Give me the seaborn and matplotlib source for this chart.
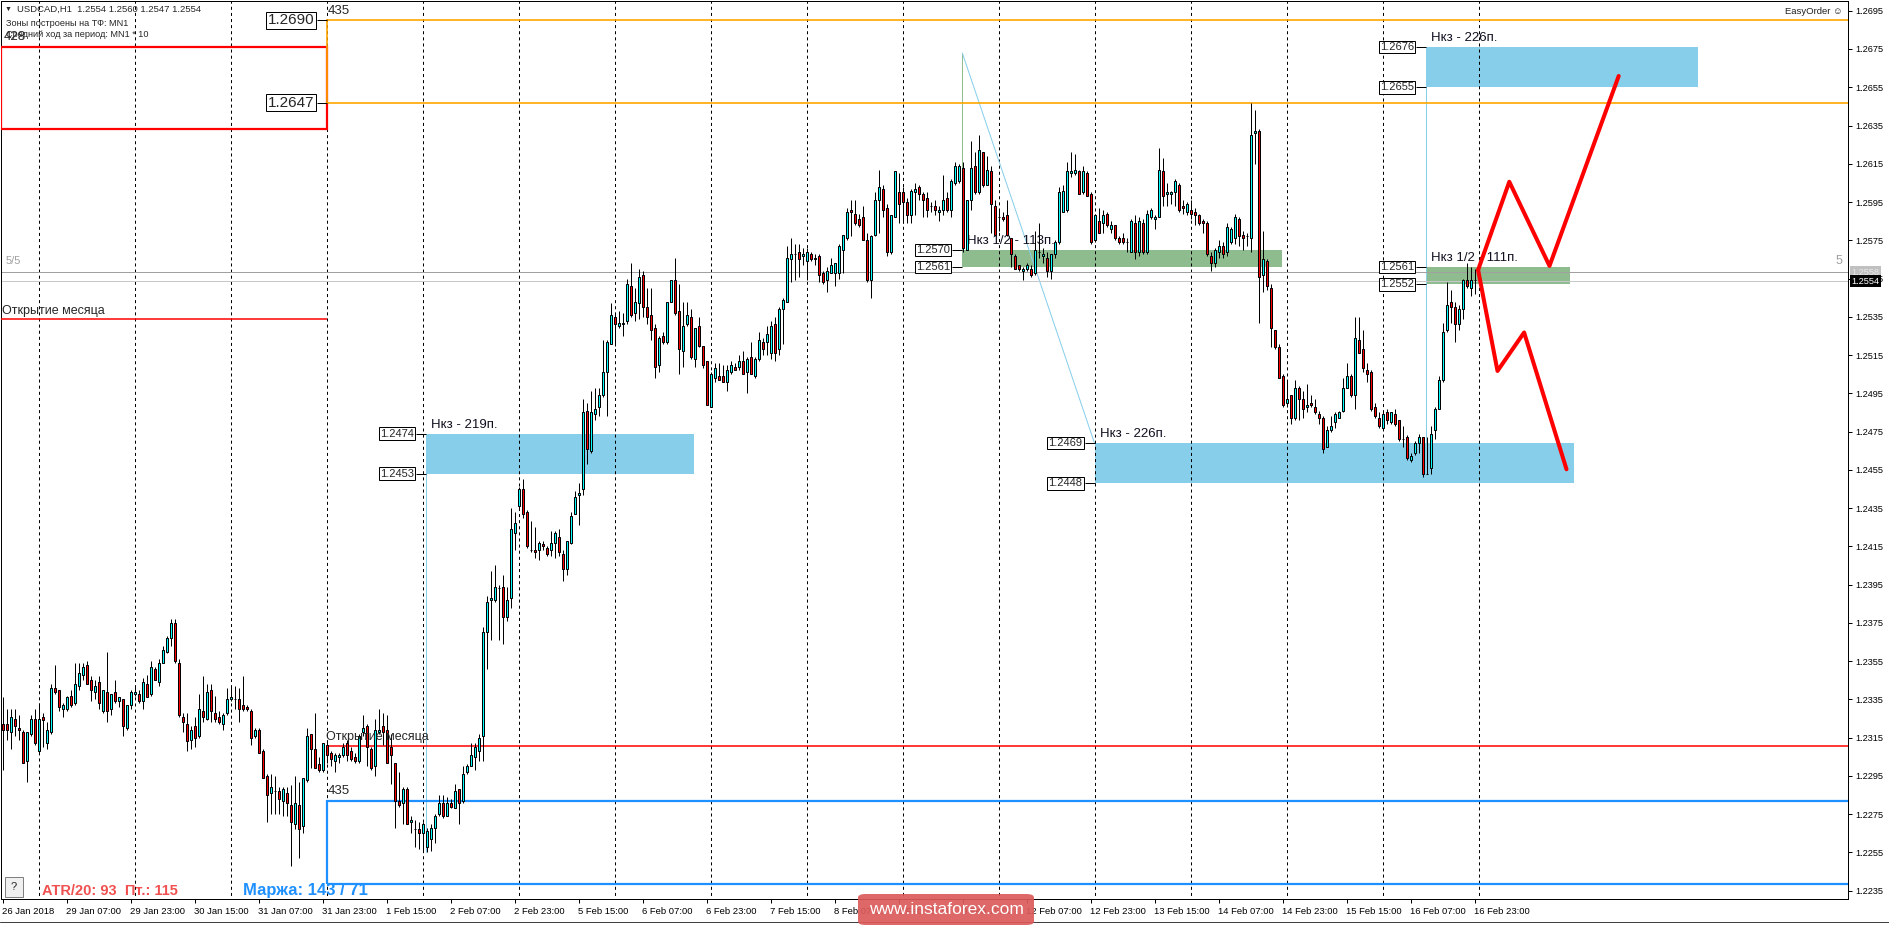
import numpy as np
import pandas as pd
import matplotlib
matplotlib.use('Agg')
import matplotlib.pyplot as plt
from matplotlib.patches import Rectangle, FancyBboxPatch
from matplotlib.lines import Line2D
import seaborn as sns

# USDCAD H1 candles, 26 Jan 15:00 .. 16 Feb 23:00, in pips above 1.2000
opens = [
    322, 322, 318, 325, 320, 318, 303, 317, 325, 308,
    326, 312, 318, 341, 340, 330, 330, 337, 333, 342,
    348, 353, 345, 339, 344, 329, 339, 330, 339, 334,
    335, 320, 332, 338, 338, 334, 343, 338, 351, 344,
    354, 360, 367, 375, 354, 326, 322, 314, 321, 316,
    329, 325, 340, 328, 326, 322, 328, 335, 335, 335,
    332, 331, 329, 316, 319, 308, 295, 286, 287, 287,
    282, 286, 280, 270, 280, 269, 293, 317, 309, 301,
    298, 311, 307, 303, 305, 306, 312, 308, 305, 303,
    318, 321, 309, 300, 318, 321, 319, 310, 302, 282,
    281, 288, 271, 267, 267, 265, 258, 262, 268, 275,
    281, 274, 281, 278, 288, 282, 297, 300, 305, 308,
    316, 370, 387, 387, 393, 394, 378, 388, 422, 436,
    445, 433, 413, 413, 413, 416, 414, 413, 417, 420,
    411, 403, 417, 432, 442, 445, 486, 465, 484, 488,
    494, 506, 521, 535, 530, 531, 533, 551, 537, 542,
    557, 540, 536, 529, 510, 525, 522, 543, 554, 538,
    517, 531, 535, 513, 530, 520, 512, 488, 503, 504,
    504, 501, 506, 509, 509, 512, 506, 514, 504, 513,
    522, 522, 516, 531, 518, 539, 543, 565, 568, 569,
    567, 564, 568, 565, 567, 558, 554, 558, 558, 558,
    570, 576, 591, 589, 586, 587, 575, 554, 578, 596,
    602, 592, 569, 587, 600, 600, 595, 588, 600, 603,
    599, 597, 593, 593, 590, 591, 597, 591, 605, 606,
    613, 570, 596, 614, 600, 621, 604, 611, 593, 587,
    587, 588, 576, 567, 562, 559, 560, 560, 558, 569,
    567, 566, 559, 568, 574, 590, 591, 610, 610, 611,
    600, 610, 599, 575, 585, 584, 589, 581, 583, 576,
    576, 574, 569, 584, 569, 584, 569, 587, 586, 587,
    611, 599, 599, 600, 604, 593, 590, 591, 590, 588,
    585, 584, 567, 563, 569, 572, 569, 574, 576, 586,
    578, 577, 576, 631, 632, 557, 564, 550, 528, 519,
    504, 490, 494, 482, 498, 492, 488, 490, 488, 484,
    482, 467, 476, 480, 482, 486, 498, 504, 494, 523,
    518, 507, 506, 488, 482, 477, 485, 480, 484, 481,
    471, 472, 460, 464, 469, 472, 453, 456, 476, 487,
    502, 528, 543, 540, 531, 539, 554, 550, 554,
]
highs = [
    336, 330, 330, 330, 327, 319, 318, 327, 330, 333,
    328, 323, 343, 353, 340, 333, 337, 340, 354, 354,
    354, 355, 347, 345, 347, 340, 360, 338, 345, 336,
    335, 332, 340, 342, 340, 346, 348, 355, 352, 356,
    363, 368, 377, 377, 356, 328, 328, 321, 326, 338,
    347, 343, 343, 337, 329, 328, 341, 342, 342, 341,
    347, 332, 330, 320, 320, 309, 296, 296, 295, 289,
    289, 289, 290, 295, 292, 294, 320, 317, 328, 305,
    312, 313, 308, 307, 307, 312, 314, 310, 307, 317,
    327, 322, 310, 325, 330, 328, 327, 317, 302, 297,
    289, 289, 274, 272, 271, 271, 268, 270, 275, 285,
    285, 284, 283, 291, 288, 300, 301, 312, 312, 317,
    373, 389, 402, 405, 395, 400, 394, 435, 433, 446,
    450, 434, 428, 425, 418, 418, 415, 423, 423, 424,
    413, 418, 433, 444, 448, 492, 490, 496, 498, 498,
    523, 523, 542, 537, 538, 537, 555, 563, 550, 560,
    559, 550, 550, 531, 525, 527, 543, 554, 566, 552,
    543, 543, 539, 529, 535, 520, 512, 506, 511, 511,
    510, 510, 512, 511, 515, 517, 514, 522, 514, 527,
    524, 530, 533, 535, 540, 545, 572, 576, 573, 573,
    571, 571, 569, 568, 568, 559, 561, 566, 563, 573,
    578, 592, 596, 596, 589, 593, 579, 578, 600, 612,
    604, 594, 588, 611, 610, 603, 597, 602, 605, 604,
    600, 600, 595, 596, 593, 609, 600, 607, 616, 615,
    616, 596, 627, 621, 630, 621, 619, 614, 596, 591,
    590, 596, 576, 568, 562, 561, 563, 562, 580, 584,
    571, 569, 568, 575, 603, 604, 616, 621, 620, 612,
    614, 611, 600, 589, 592, 591, 590, 585, 583, 577,
    579, 576, 586, 588, 587, 586, 591, 592, 588, 623,
    618, 605, 601, 607, 605, 596, 595, 596, 592, 589,
    586, 585, 569, 571, 575, 574, 584, 582, 589, 587,
    580, 579, 647, 643, 633, 580, 565, 552, 528, 521,
    505, 502, 494, 502, 499, 496, 500, 494, 492, 486,
    483, 478, 483, 485, 486, 503, 511, 505, 535, 535,
    528, 511, 507, 490, 485, 486, 487, 485, 487, 481,
    478, 473, 464, 470, 474, 472, 472, 478, 488, 504,
    532, 553, 549, 543, 541, 555, 563, 561, 560,
]
lows = [
    298, 314, 309, 316, 314, 302, 292, 316, 311, 307,
    310, 309, 317, 338, 329, 326, 329, 331, 332, 340,
    345, 343, 334, 335, 330, 328, 323, 327, 333, 331,
    316, 319, 330, 337, 333, 330, 336, 337, 345, 342,
    354, 359, 363, 354, 326, 318, 308, 309, 310, 315,
    323, 324, 323, 323, 322, 319, 327, 334, 330, 323,
    329, 329, 311, 315, 307, 294, 271, 275, 275, 275,
    274, 274, 248, 267, 252, 265, 292, 299, 299, 297,
    297, 302, 300, 297, 302, 305, 303, 303, 302, 302,
    316, 300, 298, 295, 317, 311, 302, 291, 268, 279,
    270, 270, 265, 258, 257, 256, 255, 256, 260, 274,
    273, 274, 278, 278, 270, 281, 296, 300, 298, 303,
    303, 351, 366, 386, 366, 364, 376, 383, 413, 434,
    430, 414, 412, 409, 408, 413, 410, 410, 409, 410,
    397, 400, 416, 432, 426, 442, 458, 464, 481, 483,
    493, 483, 521, 520, 529, 525, 531, 535, 533, 534,
    535, 531, 523, 503, 506, 521, 521, 543, 536, 505,
    509, 530, 513, 509, 519, 508, 489, 488, 501, 502,
    501, 496, 505, 507, 507, 505, 495, 505, 503, 512,
    515, 515, 513, 512, 515, 521, 543, 553, 554, 556,
    562, 554, 564, 562, 553, 552, 548, 558, 551, 555,
    558, 575, 577, 583, 582, 575, 553, 545, 577, 579,
    587, 567, 568, 587, 584, 584, 584, 584, 588, 596,
    587, 587, 590, 588, 585, 588, 590, 587, 604, 605,
    569, 570, 591, 599, 599, 603, 604, 579, 578, 580,
    585, 577, 561, 560, 559, 554, 559, 556, 557, 566,
    563, 556, 555, 566, 573, 590, 590, 608, 609, 599,
    599, 598, 573, 574, 579, 579, 582, 579, 575, 573,
    573, 569, 569, 565, 567, 568, 568, 586, 581, 587,
    593, 593, 594, 593, 590, 589, 588, 586, 583, 583,
    579, 567, 559, 561, 566, 566, 567, 573, 573, 572,
    570, 572, 569, 615, 532, 548, 549, 519, 518, 503,
    488, 488, 479, 481, 481, 482, 485, 488, 484, 479,
    464, 467, 475, 477, 482, 485, 498, 493, 487, 516,
    506, 501, 486, 482, 477, 477, 479, 479, 478, 470,
    467, 460, 459, 463, 464, 451, 453, 453, 471, 487,
    501, 527, 532, 522, 528, 534, 550, 546, 547,
]
closes = [
    319, 319, 326, 321, 319, 302, 318, 325, 312, 325,
    324, 319, 341, 339, 331, 332, 336, 332, 343, 349,
    352, 343, 340, 342, 333, 340, 329, 338, 334, 336,
    321, 332, 339, 339, 334, 344, 336, 352, 345, 354,
    361, 367, 375, 355, 327, 323, 313, 319, 315, 330,
    326, 339, 329, 325, 323, 327, 335, 336, 335, 330,
    330, 330, 315, 319, 307, 294, 285, 289, 287, 283,
    288, 281, 271, 281, 267, 294, 316, 309, 299, 298,
    312, 306, 304, 306, 306, 310, 306, 304, 303, 316,
    320, 310, 299, 319, 319, 318, 302, 306, 282, 280,
    288, 270, 272, 267, 265, 270, 266, 268, 274, 281,
    274, 281, 279, 287, 281, 296, 300, 306, 310, 315,
    370, 386, 388, 394, 393, 378, 387, 424, 427, 445,
    432, 415, 413, 412, 417, 415, 411, 417, 422, 412,
    403, 418, 431, 441, 443, 485, 466, 485, 487, 494,
    506, 522, 536, 531, 532, 532, 552, 536, 543, 556,
    540, 535, 528, 509, 524, 522, 543, 554, 537, 518,
    530, 536, 514, 529, 520, 510, 489, 505, 508, 502,
    501, 507, 510, 507, 512, 505, 513, 505, 513, 523,
    518, 526, 530, 516, 539, 544, 566, 568, 568, 565,
    568, 569, 565, 566, 557, 553, 559, 562, 563, 572,
    578, 590, 590, 584, 583, 575, 554, 577, 596, 603,
    591, 569, 588, 611, 594, 595, 588, 601, 602, 599,
    596, 591, 593, 591, 591, 596, 591, 606, 614, 614,
    571, 596, 613, 600, 622, 604, 612, 594, 578, 587,
    586, 578, 568, 560, 560, 560, 562, 557, 570, 569,
    568, 559, 568, 574, 600, 601, 611, 611, 612, 599,
    611, 598, 574, 588, 579, 588, 583, 583, 576, 574,
    574, 574, 585, 569, 585, 569, 589, 591, 587, 612,
    598, 600, 600, 606, 591, 592, 594, 589, 588, 584,
    584, 568, 563, 570, 572, 568, 582, 581, 587, 577,
    576, 577, 630, 632, 556, 565, 551, 529, 519, 503,
    489, 492, 482, 498, 492, 487, 489, 489, 485, 482,
    466, 476, 478, 484, 485, 498, 504, 494, 524, 516,
    508, 505, 487, 483, 478, 484, 481, 485, 479, 471,
    471, 461, 462, 469, 472, 453, 453, 474, 487, 502,
    527, 541, 540, 531, 539, 554, 551, 554, 554,
]

# time axis labels (every 16 bars)
xtick_bars = list(range(0, 369, 16))
xtick_labels = ['26 Jan 2018', '29 Jan 07:00', '29 Jan 23:00', '30 Jan 15:00', '31 Jan 07:00',
                '31 Jan 23:00', '1 Feb 15:00', '2 Feb 07:00', '2 Feb 23:00', '5 Feb 15:00',
                '6 Feb 07:00', '6 Feb 23:00', '7 Feb 15:00', '8 Feb 07:00', '8 Feb 23:00',
                '9 Feb 15:00', '12 Feb 07:00', '12 Feb 23:00', '13 Feb 15:00', '14 Feb 07:00',
                '14 Feb 23:00', '15 Feb 15:00', '16 Feb 07:00', '16 Feb 23:00']
day_start_bars = list(range(9, 370, 24))
price_ticks = [round(1.2235 + 0.002 * k, 4) for k in range(24)]

# monthly zones (MN1)
mbox_start = [-0.4, 81, 81]
mbox_end = [81, 480, 480]
mbox_low = [1.2633, 1.2647, 1.22385]
mbox_high = [1.2676, 1.2690, 1.2282]
mbox_color = ['#ff0000', '#ffa500', '#1e90ff']
mbox_lw = [1.6, 1.2, 1.6]
mbox_label = ['428', '435', '435']
mopen_start = [-0.4, 81]
mopen_end = [81, 480]
mopen_price = [1.25339, 1.23109]

# target zones
zone_start = [105.9, 239.9, 273.0, 355.9, 355.9]
zone_end = [172.9, 319.8, 392.9, 423.9, 391.9]
zone_low = [1.2453, 1.2561, 1.2448, 1.2655, 1.2552]
zone_high = [1.2474, 1.2570, 1.2469, 1.2676, 1.2561]
zone_color = ['#87ceeb', '#8fbc8f', '#87ceeb', '#87ceeb', '#8fbc8f']
zone_title = ['Нкз - 219п.', 'Нкз 1/2 - 113п.', 'Нкз - 226п.', 'Нкз - 226п.', 'Нкз 1/2 - 111п.']

# guide lines: (x0, x1), (y0, y1), colour
guide_x = [(105.9, 105.9), (239.95, 239.95), (239.95, 273.0), (355.9, 355.9)]
guide_y = [(1.2453, 1.2255), (1.26729, 1.2570), (1.26729, 1.2469), (1.2655, 1.2452)]
guide_color = ['#87ceeb', '#8fbc8f', '#87ceeb', '#87ceeb']

# forecast zigzags
up_x = [368.9, 376.7, 386.75, 404.05]
up_y = [1.25595, 1.26056, 1.25616, 1.26609]
down_x = [368.9, 373.75, 380.4, 391.0]
down_y = [1.25595, 1.25067, 1.25268, 1.24553]

ask_price, bid_price = 1.25583, 1.25537

sns.set_style('white')
plt.rcParams['font.family'] = ['Liberation Sans', 'DejaVu Sans']
plt.rcParams['lines.scale_dashes'] = False

W, H = 1889, 925
PX = 0.72  # one pixel in points

fig = plt.figure(figsize=(W / 100, H / 100), dpi=100)
ax = fig.add_axes([1 / W, (H - 899) / H, 1847 / W, 898 / H])
ax.set_xlim(-0.375, 461.375)
ax.set_ylim(1.223066, 1.270009)
for sp in ax.spines.values():
    sp.set_color('black')
    sp.set_linewidth(PX)


def fx(px):
    return px / W


def fy(py):
    return 1 - py / H


# candles
df = pd.DataFrame({'open': opens, 'high': highs, 'low': lows, 'close': closes}) / 10000 + 1.2
df['bar'] = np.arange(len(df))
df['high'] = df[['open', 'high', 'close']].max(axis=1)
df['low'] = df[['open', 'low', 'close']].min(axis=1)
bull = df['close'] >= df['open']

# zones
for s, e, lo, hi, col in zip(zone_start, zone_end, zone_low, zone_high, zone_color):
    ax.add_patch(Rectangle((s, lo), e - s, hi - lo, fc=col, ec='none', zorder=1))

ax.vlines(day_start_bars, 1.2, 1.3, colors='black', linestyles=(0, (2.2, 2.2)), lw=PX, zorder=1.5)

for s, e, lo, hi, col, lw, lab in zip(mbox_start, mbox_end, mbox_low, mbox_high, mbox_color, mbox_lw, mbox_label):
    ax.add_patch(Rectangle((s, lo), e - s, hi - lo, fill=False, ec=col, lw=lw, zorder=3))
    ax.annotate(lab, xy=(max(s, 0), hi), xytext=(1, 7), textcoords='offset points',
                fontsize=9.5, ha='left', va='center', zorder=6)

for s, e, p in zip(mopen_start, mopen_end, mopen_price):
    ax.hlines(p, s, e, colors='#ff0000', lw=1.1, zorder=3)
    ax.annotate('Открытие месяца', xy=(max(s, 0), p), xytext=(0, 6), textcoords='offset points',
                fontsize=9, ha='left', va='center', zorder=6)

for (x0, x1), (y0, y1), col in zip(guide_x, guide_y, guide_color):
    ax.plot([x0, x1], [y0, y1], color=col, lw=PX, zorder=2)

ax.axhline(ask_price, color='#a0a0a0', lw=PX, zorder=2)
ax.axhline(bid_price, color='#c8c8c8', lw=PX, zorder=2)

ax.vlines(df['bar'], df['low'], df['high'], color='black', lw=PX, zorder=4)
for mask, col in ((bull, '#00ffff'), (~bull, '#ff0000')):
    d = df[mask]
    ax.bar(d['bar'], (d['close'] - d['open']).abs(), bottom=d[['open', 'close']].min(axis=1),
           width=0.5, color=col, edgecolor='black', linewidth=PX, zorder=5)

# zone price labels and titles
box_small = dict(boxstyle='square,pad=0.12', fc='white', ec='black', lw=PX)
for s, lo, hi, title in zip(zone_start, zone_low, zone_high, zone_title):
    for p in (lo, hi):
        ax.hlines(p, s - 2.5, s, colors='black', lw=PX, zorder=6)
        ax.annotate(f'{p:.4f}', xy=(s, p), xytext=(-8.6, 0), textcoords='offset points',
                    ha='right', va='center', fontsize=8, bbox=box_small, zorder=6)
    ax.annotate(title, xy=(s, hi), xytext=(3.6, 6.3), textcoords='offset points',
                ha='left', va='center', fontsize=9.5, color='#101020', zorder=2)

box_big = dict(boxstyle='square,pad=0.1', fc='white', ec='black', lw=PX)
for p in (mbox_low[1], mbox_high[1]):
    ax.hlines(p, mbox_start[1] - 2.5, mbox_start[1], colors='black', lw=PX, zorder=6)
    ax.annotate(f'{p:.4f}', xy=(mbox_start[1], p), xytext=(-8.8, 0), textcoords='offset points',
                ha='right', va='center', fontsize=11, bbox=box_big, zorder=6)

# forecast
sns.lineplot(x=up_x, y=up_y, ax=ax, color='#ff0000', lw=2.9, sort=False, estimator=None, zorder=7)
sns.lineplot(x=down_x, y=down_y, ax=ax, color='#ff0000', lw=2.9, sort=False, estimator=None, zorder=7)

# axes ticks
ax.yaxis.tick_right()
ax.set_yticks(price_ticks)
ax.set_yticklabels([f'{v:.4f}' for v in price_ticks])
ax.tick_params(axis='y', right=True, left=False, length=3, width=PX, pad=2, labelsize=6.6, colors='black')
ax.set_xticks(xtick_bars)
ax.set_xticklabels(xtick_labels, ha='left')
ax.tick_params(axis='x', bottom=True, length=3, width=PX, pad=2.5, labelsize=6.8, colors='black')
ax.set_xlabel('')
ax.set_ylabel('')

for p, fc, tc in ((ask_price, '#c0c0c0', '#e8e8e8'), (bid_price, 'black', 'white')):
    ax.annotate(f'{p:.4f}', xy=(1, p), xycoords=('axes fraction', 'data'), xytext=(2.5, 0),
                textcoords='offset points', ha='left', va='center', fontsize=6.6, color=tc,
                bbox=dict(boxstyle='square,pad=0.2', fc=fc, ec='none'), annotation_clip=False, zorder=8)

# header texts
fig.text(fx(5), fy(9.5), '▼', fontsize=5, va='center', ha='left')
fig.text(fx(17), fy(9.5), 'USDCAD,H1  1.2554 1.2560 1.2547 1.2554', fontsize=6.8, va='center')
fig.text(fx(6), fy(23.3), 'Зоны построены на ТФ: MN1', fontsize=6.6, va='center')
fig.text(fx(6), fy(34.3), 'Средний ход за период: MN1 * 10', fontsize=6.6, va='center')
fig.text(fx(1843), fy(11), 'EasyOrder ☺', fontsize=6.8, va='center', ha='right', color='#202020')
fig.text(fx(6), fy(261), '5/5', fontsize=8, va='center', color='#a0a0a0')
fig.text(fx(1836), fy(261), '5', fontsize=9, va='center', color='#a0a0a0')

# bottom info
fig.add_artist(Rectangle((fx(5), fy(897)), 18 / W, 20 / H, fc='#f0f0f0', ec='#808080', lw=PX,
                         transform=fig.transFigure))
fig.text(fx(14), fy(887), '?', fontsize=8, ha='center', va='center')
fig.text(fx(42), fy(891), 'ATR/20: 93  Пт.: 115', fontsize=10.5, fontweight='bold',
         color='#f05050', va='center')
fig.text(fx(243), fy(891), 'Маржа: 143 / 71', fontsize=12, fontweight='bold',
         color='#1e90ff', va='center')

fig.add_artist(FancyBboxPatch((fx(858), 0), 176 / W, 31 / H, boxstyle='round,pad=0,rounding_size=0.004',
                              fc='#dc5a5a', ec='none', alpha=0.92, transform=fig.transFigure, zorder=10))
fig.text(fx(946), fy(910), 'www.instaforex.com', fontsize=12.5, color='white', ha='center',
         va='center', zorder=11)
fig.add_artist(Line2D([0, 1], [fy(921.5)] * 2, color='#404040', lw=PX, transform=fig.transFigure))

fig.savefig('out.png', dpi=100)
